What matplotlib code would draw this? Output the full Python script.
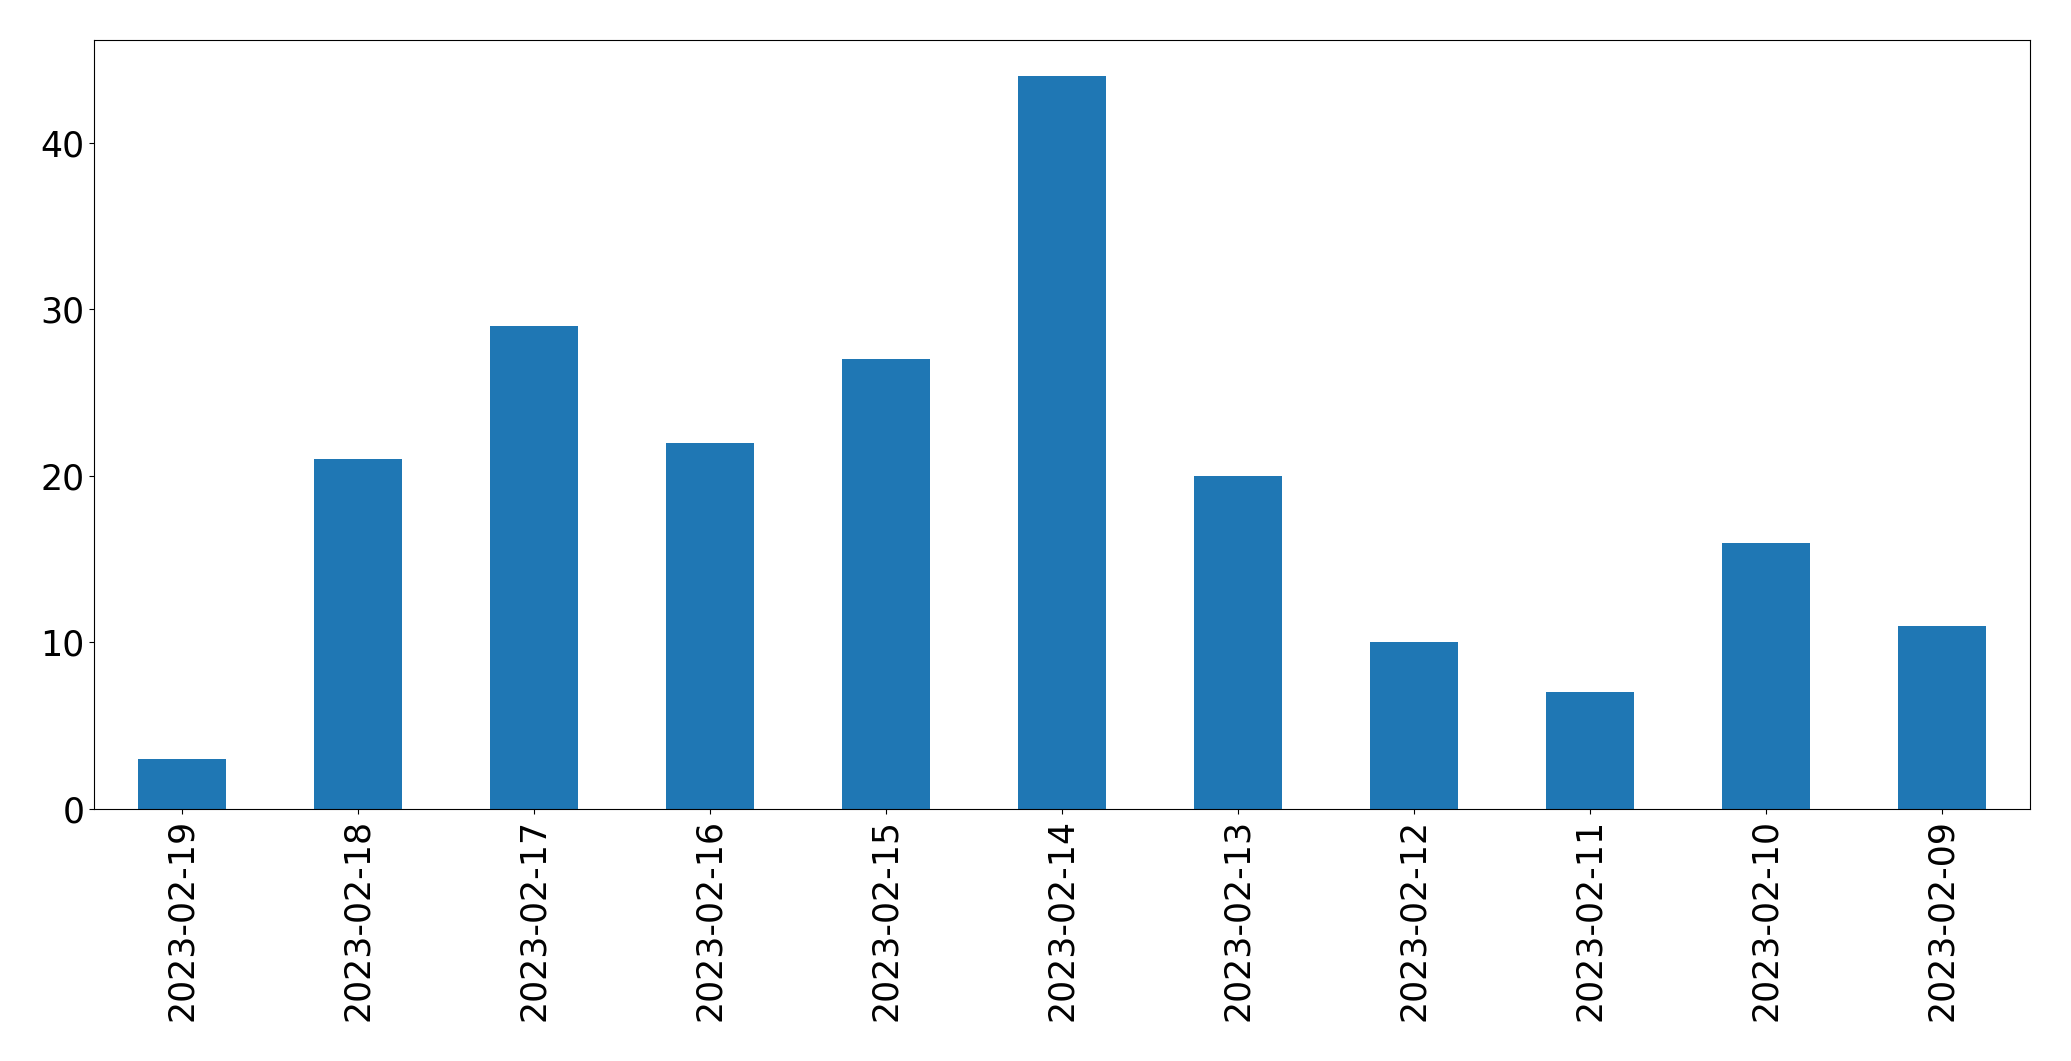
import matplotlib
matplotlib.use("Agg")
import matplotlib.pyplot as plt

dates = ["2023-02-19", "2023-02-18", "2023-02-17", "2023-02-16", "2023-02-15",
         "2023-02-14", "2023-02-13", "2023-02-12", "2023-02-11", "2023-02-10", "2023-02-09"]
counts = [3, 21, 29, 22, 27, 44, 20, 10, 7, 16, 11]

fig = plt.figure(figsize=(20.71, 10.61), dpi=100)
ax = fig.add_axes([94/2071, 1 - 809/1061, (2030 - 94)/2071, (809 - 39.5)/1061])
x = list(range(len(dates)))
ax.bar(x, counts, width=0.5, color="#1f77b4")
ax.set_xlim(-0.5, len(dates) - 0.5)
ax.set_ylim(0, max(counts) * 1.05)
ax.set_xticks(x)
ax.set_xticklabels(dates, rotation=90)
ax.set_yticks([0, 10, 20, 30, 40])
ax.tick_params(axis="both", labelsize=25)
fig.savefig("out.png", dpi=100)
